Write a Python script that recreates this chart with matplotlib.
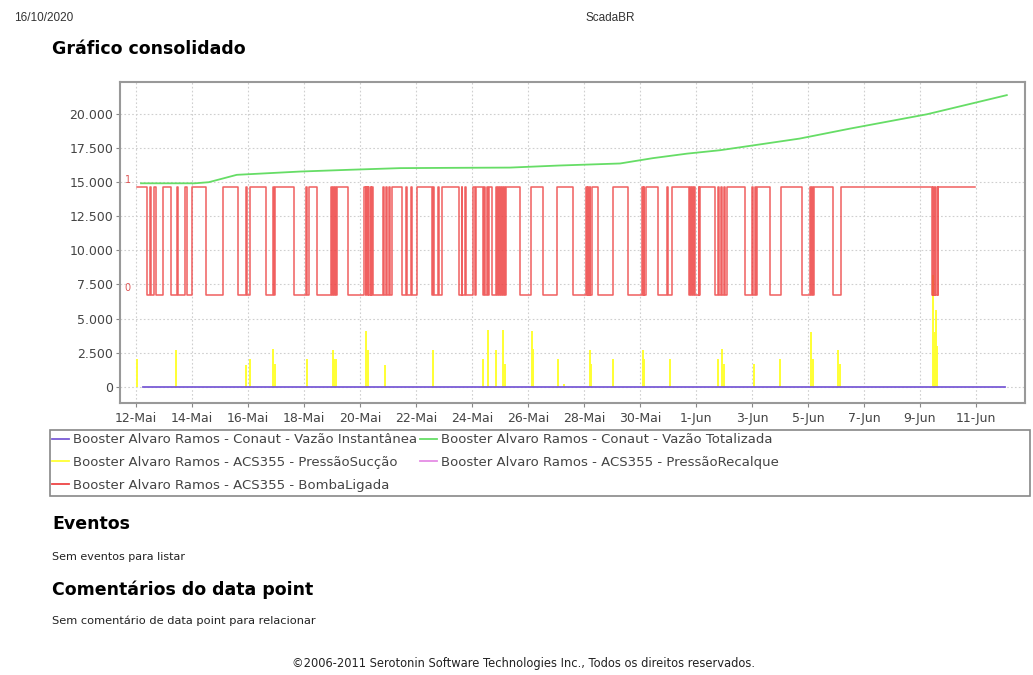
import numpy as np
import matplotlib
matplotlib.use("Agg")
import matplotlib.pyplot as plt
from matplotlib.lines import Line2D
from matplotlib.patches import Rectangle

# dias contados a partir de 12/05/2020 00:00
inicio = np.datetime64("2020-05-12T00:00")

xtick_dias = [0, 2, 4, 6, 8, 10, 12, 14, 16, 18, 20, 22, 24, 26, 28, 30]
xtick_labels = ["12-Mai", "14-Mai", "16-Mai", "18-Mai", "20-Mai", "22-Mai", "24-Mai",
                "26-Mai", "28-Mai", "30-Mai", "1-Jun", "3-Jun", "5-Jun", "7-Jun",
                "9-Jun", "11-Jun"]
yticks = [0, 2500, 5000, 7500, 10000, 12500, 15000, 17500, 20000]

# Vazão Totalizada
tot_dias = [0.18, 2.1, 2.6, 3.6, 5.86, 7.64, 9.43, 11.2, 13.36, 15.1, 17.29, 18.46, 19.68,
            20.86, 22.3, 23.7, 25.5, 28.25, 31.1]
tot_val = [14900, 14900, 14980, 15520, 15760, 15890, 16010, 16030, 16050, 16200, 16350,
           16740, 17070, 17320, 17750, 18170, 18900, 19950, 21350]

# Vazão Instantânea
inst_dias = [0.25, 31.04]
inst_val = [0, 0]

# PressãoSucção (picos)
suc_dias = [0.04, 1.43, 3.92, 4.07, 4.90, 4.96, 6.10, 7.04, 7.09, 7.14, 8.21, 8.30, 8.89,
            10.62, 12.40, 12.58, 12.86, 13.12, 13.18, 14.13, 14.17, 15.08, 15.29, 16.21,
            16.25, 17.02, 18.10, 18.14, 19.07, 20.80, 20.94, 21.01, 22.07, 23.00, 24.11,
            24.18, 25.08, 25.14, 28.46, 28.49, 28.52, 28.58, 28.62]
suc_val = [2080, 2740, 1640, 2080, 2810, 1700, 2080, 2680, 2080, 2080, 4100, 2680, 1640,
           2740, 2080, 4150, 2740, 4150, 1700, 4100, 2800, 2080, 200, 2740,
           1700, 2080, 2680, 2080, 2080, 2080, 2810, 1700, 1700, 2080, 4020,
           2080, 2740, 1700, 8170, 2500, 4020, 5600, 3000]

# BombaLigada (1 = ligada)
bomba_liga = [0.04, 0.50, 0.66, 0.95, 1.45, 1.75, 1.99, 3.12, 3.92, 4.07, 4.88, 4.96, 6.06,
              6.19, 6.96, 7.04, 7.11, 7.18, 8.15, 8.23, 8.30, 8.38, 8.44, 8.82, 8.93, 9.04,
              9.13, 9.64, 9.82, 10.03, 10.61, 10.79, 10.93, 11.63, 11.75, 12.05, 12.14,
              12.43, 12.53, 12.61, 12.86, 12.93, 13.00, 13.07, 13.14, 13.21, 14.11, 15.04,
              16.06, 16.13, 16.20, 16.28, 17.05, 18.06, 18.13, 18.20, 18.96, 19.13, 19.80,
              19.87, 19.94, 20.09, 20.14, 20.79, 20.89, 21.00, 21.10, 22.00, 22.09, 22.17,
              23.04, 24.07, 24.14, 24.21, 25.18, 28.45, 28.52, 28.59, 28.65]
bomba_desliga = [0.39, 0.54, 0.71, 1.25, 1.49, 1.81, 2.50, 3.65, 3.98, 4.63, 4.92, 5.65,
                 6.11, 6.45, 7.00, 7.07, 7.14, 7.58, 8.20, 8.27, 8.34, 8.41, 8.48, 8.86,
                 8.96, 9.07, 9.49, 9.68, 9.86, 10.56, 10.64, 10.82, 11.54, 11.66, 11.79,
                 12.11, 12.39, 12.46, 12.57, 12.70, 12.89, 12.96, 13.04, 13.11, 13.18,
                 13.71, 14.55, 15.62, 16.09, 16.16, 16.23, 16.51, 17.58, 18.09, 18.16,
                 18.65, 19.00, 19.76, 19.83, 19.90, 19.96, 20.11, 20.68, 20.82, 20.93,
                 21.04, 21.75, 22.04, 22.13, 22.64, 23.78, 24.11, 24.18, 24.90, 28.42,
                 28.48, 28.55, 28.63]
bomba_fim = 29.96

nomes = ["Booster Alvaro Ramos - Conaut - Vazão Instantânea",
         "Booster Alvaro Ramos - Conaut - Vazão Totalizada",
         "Booster Alvaro Ramos - ACS355 - PressãoSucção",
         "Booster Alvaro Ramos - ACS355 - PressãoRecalque",
         "Booster Alvaro Ramos - ACS355 - BombaLigada"]
cores = ["#7a5cd6", "#66dd66", "#ffff33", "#e58ce5", "#ee4444"]


def dia(d):
    return inicio + (np.asarray(d, dtype=float) * 86400).astype("int64").astype("timedelta64[s]")


W, H = 1033, 675
fig = plt.figure(figsize=(W / 100, H / 100), dpi=100)
ax = fig.add_axes([120 / W, 1 - 403 / H, 905 / W, (403 - 82) / H])

ax.plot(dia(tot_dias), tot_val, color=cores[1], lw=1.3)
ax.vlines(dia(suc_dias), 0, suc_val, color=cores[2], lw=1.4)
ax.plot(dia(inst_dias), inst_val, color=cores[0], lw=1.3)

ax.set_ylim(-1170, 22310)
ax.set_xlim(dia(-0.57), dia(31.75))
ax.set_yticks(yticks)
ax.set_yticklabels([f"{v:,}".replace(",", ".") for v in yticks])
ax.set_xticks(dia(xtick_dias))
ax.set_xticklabels(xtick_labels)
ax.tick_params(labelsize=9, labelcolor="#444444", color="#888888", length=3)
ax.tick_params(axis="y", pad=2)
ax.grid(True, color="#cfcfcf", ls=(0, (1.5, 2)), lw=0.8)
for s in ax.spines.values():
    s.set_color("#999999")
    s.set_linewidth(1.5)

# estado da bomba em eixo próprio (0/1)
ax2 = ax.twinx()
t_on = list(zip(bomba_liga, [1] * len(bomba_liga)))
t_off = list(zip(bomba_desliga, [0] * len(bomba_desliga)))
serie = sorted(t_on + t_off) + [(bomba_fim, 1)]
bt = [p[0] for p in serie]
bv = [p[1] for p in serie]
ax2.plot(dia(bt), bv, drawstyle="steps-post", color=cores[4], lw=1.1, alpha=0.85)
ax2.set_ylim(-0.994, 1.97)
ax2.set_yticks([])
for s in ax2.spines.values():
    s.set_visible(False)
for v in [0, 1]:
    ax2.annotate(str(v), xy=(0.005, v), xycoords=("axes fraction", "data"),
                 xytext=(0, 5), textcoords="offset points", color="#dd5555",
                 fontsize=7, va="center", ha="left")

# legenda
hs = [Line2D([], [], color=c, lw=1.3) for c in cores]
ordem = [0, 2, 4, 1, 3]
fig.legend([hs[i] for i in ordem], [nomes[i] for i in ordem], loc="upper left",
           bbox_to_anchor=(51 / W, 1 - 432 / H), ncol=2, frameon=False, fontsize=9.5,
           labelcolor="#444444", handlelength=1.3, handletextpad=0.3, columnspacing=0.2,
           labelspacing=0.74, borderaxespad=0, borderpad=0.1)
fig.patches.append(Rectangle((50 / W, 1 - 496 / H), 980 / W, 66 / H,
                             transform=fig.transFigure, fill=False,
                             edgecolor="#888888", lw=1.2))

# textos da página
fig.text(14 / W, 1 - 18 / H, "16/10/2020", fontsize=8.5, color="#333333",
         family="Liberation Sans", va="center")
fig.text(610 / W, 1 - 18 / H, "ScadaBR", fontsize=8.5, color="#333333",
         family="Liberation Sans", va="center", ha="center")
fig.text(52 / W, 1 - 49 / H, "Gráfico consolidado", fontsize=12.5, weight="bold",
         va="center")
fig.text(52 / W, 1 - 524 / H, "Eventos", fontsize=12.5, weight="bold", va="center")
fig.text(52 / W, 1 - 557 / H, "Sem eventos para listar", fontsize=8, va="center",
         color="#222222")
fig.text(52 / W, 1 - 590 / H, "Comentários do data point", fontsize=12.5, weight="bold",
         va="center")
fig.text(52 / W, 1 - 621 / H, "Sem comentário de data point para relacionar", fontsize=8.2,
         va="center", color="#222222")
fig.text(523 / W, 1 - 664 / H,
         "©2006-2011 Serotonin Software Technologies Inc., Todos os direitos reservados.",
         fontsize=8.3, va="center", ha="center", color="#222222")

fig.savefig("out.png", dpi=100)
